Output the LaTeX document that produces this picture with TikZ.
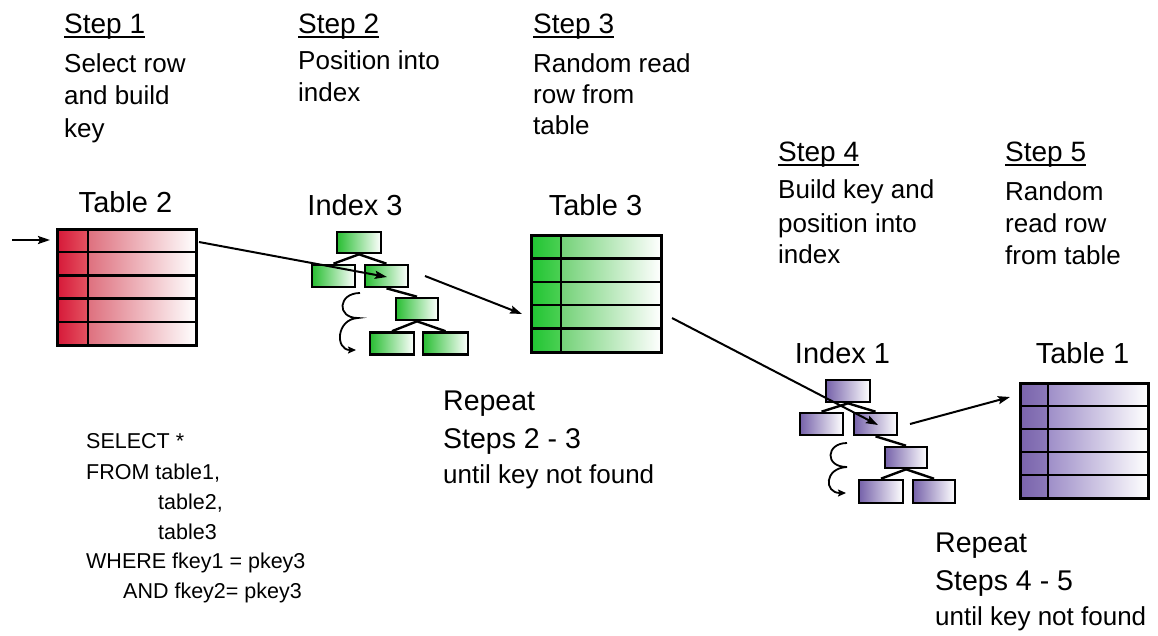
\documentclass[tikz,border=0pt]{standalone}
\usepackage{fontspec}
\setmainfont{Liberation Sans}
\usetikzlibrary{arrows.meta,fit,calc}
\definecolor{redA}{RGB}{214,24,56}
\definecolor{redB}{RGB}{228,84,98}
\definecolor{redC}{RGB}{222,112,126}
\definecolor{grnA}{RGB}{32,196,50}
\definecolor{grnB}{RGB}{76,208,84}
\definecolor{grnC}{RGB}{116,210,120}
\definecolor{purA}{RGB}{122,100,172}
\definecolor{purB}{RGB}{140,122,186}
\definecolor{purC}{RGB}{158,142,200}
\definecolor{gibox}{RGB}{40,190,50}
\definecolor{pibox}{RGB}{118,98,170}
\tikzset{
 stephead/.style={anchor=base west, inner sep=0pt, font=\fontsize{28}{34}\selectfont},
 bodytxt/.style={anchor=base west, inner sep=0pt, font=\fontsize{26}{30}\selectfont},
 titletxt/.style={anchor=base, inner sep=0pt, font=\fontsize{29}{34}\selectfont},
 reptxt/.style={anchor=base west, inner sep=0pt, font=\fontsize{28.5}{34}\selectfont},
 sqltxt/.style={anchor=base west, inner sep=0pt, font=\fontsize{21.5}{24}\selectfont},
 ibox/.style={draw, line width=2.6pt, minimum width=43pt, minimum height=22pt, inner sep=0pt, left color=#1, right color=white},
 tline/.style={line width=2.4pt},
 conn/.style={line width=2pt, -{Stealth[length=12pt,width=8pt,inset=2pt]}},
 curl/.style={line width=1.8pt, -{Stealth[length=8pt,width=7pt,inset=1.5pt]}},
 uline/.style={line width=1.8pt},
}
\newcommand{\dbtable}[7]{%
  \shade[left color=#7A, right color=#7B] (#2,#3) rectangle (#6,#5);
  \shade[left color=#7C, right color=white] (#6,#3) rectangle (#4,#5);
  \node[draw, line width=3pt, inner sep=0pt, outer sep=0pt, fit={(#2,#3) (#4,#5)}] (#1) {};
  \foreach \k in {1,2,3,4}{\draw[tline] ($(#1.north west)!\k/5!(#1.south west)$) -- ($(#1.north east)!\k/5!(#1.south east)$);}
  \draw[tline] (#6,#3) -- (#6,#5);
}
\begin{document}
\begin{tikzpicture}[x=1pt,y=-1pt]
\useasboundingbox (0,0) rectangle (1158,635);
% headings and step texts
\node[stephead] (h1) at (64,33) {Step 1};
\node[bodytxt] (b1a) at (64,72) {Select row};
\node[bodytxt] (b1b) at (64,104) {and build};
\node[bodytxt] (b1c) at (64,137) {key};
\node[stephead] (h2) at (298,33) {Step 2};
\node[bodytxt] (b2a) at (298,69) {Position into};
\node[bodytxt] (b2b) at (298,101) {index};
\node[stephead] (h3) at (533,33) {Step 3};
\node[bodytxt] (b3a) at (533,72) {Random read};
\node[bodytxt] (b3b) at (533,103) {row from};
\node[bodytxt] (b3c) at (533,134) {table};
\node[stephead] (h4) at (778,161) {Step 4};
\node[bodytxt] (b4a) at (778,198) {Build key and};
\node[bodytxt] (b4b) at (778,232) {position into};
\node[bodytxt] (b4c) at (778,263) {index};
\node[stephead] (h5) at (1005,161) {Step 5};
\node[bodytxt] (b5a) at (1005,200) {Random};
\node[bodytxt] (b5b) at (1005,232) {read row};
\node[bodytxt] (b5c) at (1005,264) {from table};
\foreach \h in {h1,h2,h3,h4,h5}{\draw[uline] ([yshift=-4pt]\h.base west) -- ([yshift=-4pt]\h.base east);}
% titles
\node[titletxt] (tt2) at (125.5,212) {Table 2};
\node[titletxt] (ti3) at (355,215) {Index 3};
\node[titletxt] (tt3) at (595.5,215) {Table 3};
\node[titletxt] (ti1) at (842.5,363) {Index 1};
\node[titletxt] (tt1) at (1082.5,363) {Table 1};
% tables
\dbtable{t2}{57}{229}{196}{345}{88}{red}
\dbtable{t3}{531}{235}{661}{352}{561}{grn}
\dbtable{t1}{1020}{383}{1148}{498}{1048}{pur}
% index 3
\node[ibox=gibox, minimum width=44pt, minimum height=21pt] (i3a) at (359,242.5) {};
\node[ibox=gibox] (i3b) at (333.5,276) {};
\node[ibox=gibox] (i3c) at (386.5,276) {};
\node[ibox=gibox, minimum width=42pt] (i3d) at (417,309) {};
\node[ibox=gibox, minimum width=44pt] (i3e) at (392,343.5) {};
\node[ibox=gibox, minimum width=45pt] (i3f) at (445.5,343.5) {};
\draw[tline] (i3a.south) -- (i3b.north);
\draw[tline] (i3a.south) -- (i3c.north);
\draw[tline] (i3c.south) -- (i3d.north);
\draw[tline] (i3d.south) -- (i3e.north);
\draw[tline] (i3d.south) -- (i3f.north);
\draw[curl] (360,293) .. controls (338,293) and (336,318) .. (358,318) .. controls (336,319) and (335,350) .. (356,350);
% index 1
\node[ibox=pibox, minimum width=44pt] (i1a) at (848,391) {};
\node[ibox=pibox] (i1b) at (821.5,424) {};
\node[ibox=pibox] (i1c) at (875.5,424) {};
\node[ibox=pibox, minimum width=42pt, minimum height=21pt] (i1d) at (906,457.5) {};
\node[ibox=pibox, minimum width=44pt, minimum height=23pt] (i1e) at (881,491.5) {};
\node[ibox=pibox, minimum width=42pt, minimum height=23pt] (i1f) at (934,491.5) {};
\draw[tline] (i1a.south) -- (i1b.north);
\draw[tline] (i1a.south) -- (i1c.north);
\draw[tline] (i1c.south) -- (i1d.north);
\draw[tline] (i1d.south) -- (i1e.north);
\draw[tline] (i1d.south) -- (i1f.north);
\draw[curl] (847,443) .. controls (826,443) and (824,467) .. (847,467) .. controls (824,468) and (824,493) .. (846,493);
% connectors
\coordinate (in0) at (12,240);
\coordinate (in1) at (50,240);
\coordinate (s1) at (199,242);
\coordinate (e1) at (387,277);
\coordinate (s2) at (425,276);
\coordinate (e2) at (522,314);
\coordinate (s3) at (672,318);
\coordinate (e3) at (878,425);
\coordinate (s4) at (910,424);
\coordinate (e4) at (1010,397);
\draw[conn] (in0) -- (in1);
\draw[conn] (s1) -- (e1);
\draw[conn] (s2) -- (e2);
\draw[conn] (s3) -- (e3);
\draw[conn] (s4) -- (e4);
% repeat texts
\node[reptxt] (r1a) at (443,410) {Repeat};
\node[reptxt] (r1b) at (443,448) {Steps 2 - 3};
\node[bodytxt] (r1c) at (443,483) {until key not found};
\node[reptxt] (r2a) at (935,552) {Repeat};
\node[reptxt] (r2b) at (935,590) {Steps 4 - 5};
\node[bodytxt] (r2c) at (935,625) {until key not found};
% SQL
\node[sqltxt] (q1) at (86,448) {SELECT *};
\node[sqltxt] (q2) at (86,479) {FROM table1,};
\node[sqltxt] (q3) at (158,509) {table2,};
\node[sqltxt] (q4) at (158,539) {table3};
\node[sqltxt] (q5) at (86,568) {WHERE fkey1 = pkey3};
\node[sqltxt] (q6) at (123,598) {AND fkey2= pkey3};
\end{tikzpicture}
\end{document}
